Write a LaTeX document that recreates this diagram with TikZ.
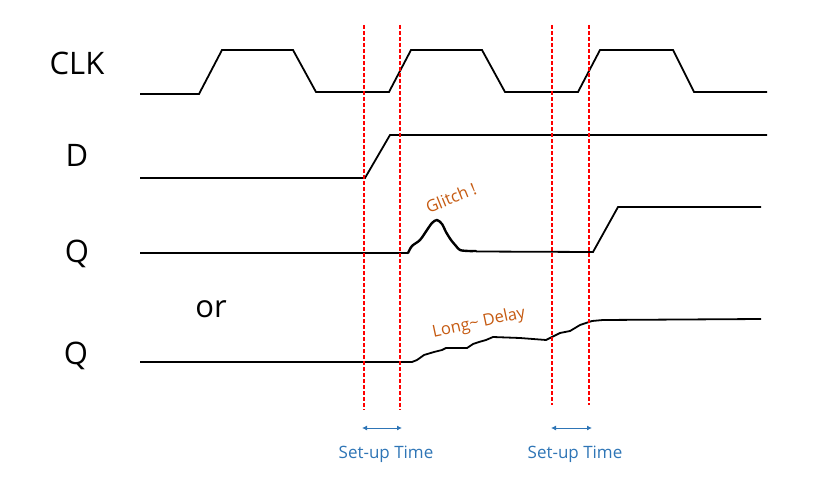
\documentclass[tikz,border=0pt]{standalone}
\usepackage{fontspec}
\setmainfont{Open Sans}
\usetikzlibrary{arrows.meta}
\definecolor{lblue}{RGB}{46,117,182}
\definecolor{aorange}{RGB}{197,90,17}
\begin{document}
\begin{tikzpicture}[x=1pt,y=-1pt,
  wave/.style={line width=1.8pt,line join=miter},
  guide/.style={red,line width=1.4pt,dash pattern=on 4pt off 2pt},
  siglabel/.style={font=\fontsize{31}{33}\selectfont,anchor=base,inner sep=0pt},
  note/.style={text=aorange,font=\fontsize{16.5}{18}\selectfont,inner sep=1pt},
  setup/.style={lblue,line width=0.9pt,{Latex[length=5pt,width=5pt]}-{Latex[length=5pt,width=5pt]}},
  setuptext/.style={text=lblue,font=\fontsize{17}{19}\selectfont}]
\useasboundingbox (0,0) rectangle (820,492);
% labels
\node[siglabel] (clk) at (77,75) {CLK};
\node[siglabel] (d) at (77,167) {D};
\node[siglabel] (q1) at (77,262) {Q};
\node[siglabel] (or) at (211,317) {or};
\node[siglabel] (q2) at (76,364) {Q};
% CLK
\draw[wave] (140,94) -- (199,94) -- (222,50) -- (293,50) -- (316,92) -- (389,92) -- (411,50) -- (482,50) -- (505,92) -- (578,92) -- (600,50) -- (673,50) -- (694,92) -- (767,92);
% D
\draw[wave] (140,178) -- (365,178) -- (390,135) -- (767,135);
% Q glitch
\draw[wave] (140,253) -- (408,253);
\draw[line width=2.4pt,line join=round,line cap=round] plot[smooth,tension=0.5] coordinates {(408,253) (412,246) (420,240) (427,230) (432,223) (437,220) (442,224) (446,232) (451,240) (456,246) (460,250) (468,251) (476,251)};
\draw[wave] (476,251.5) -- (593,252) -- (618,207) -- (761,207);
% Q long delay
\draw[wave,line join=round] (140,362) -- (412,362) -- (417,360) -- (424,355) -- (434,352) -- (442,350) -- (446,348) -- (467,348) -- (473,344) -- (479,342) -- (486,340) -- (493,337) -- (520,338) -- (546,340) -- (552,337) -- (560,333) -- (570,331) -- (580,325) -- (592,321) -- (603,320) -- (761,319);
% guides
\draw[guide] (364,25) -- (364,410);
\draw[guide] (400,25) -- (400,410);
\draw[guide] (552,25) -- (552,405);
\draw[guide] (589,25) -- (589,405);
% notes
\node[note,rotate=22] (glitch) at (451,198) {Glitch !};
\node[note,rotate=12] (delay) at (479,323) {Long\textasciitilde{} Delay};
% setup arrows
\coordinate (s1a) at (362,428);
\coordinate (s1b) at (402,428);
\coordinate (s2a) at (551,428);
\coordinate (s2b) at (592,428);
\draw[setup] (s1a) -- (s1b);
\draw[setup] (s2a) -- (s2b);
\node[setuptext] (st1) at (386,454) {Set-up Time};
\node[setuptext] (st2) at (575,454) {Set-up Time};
\end{tikzpicture}
\end{document}
